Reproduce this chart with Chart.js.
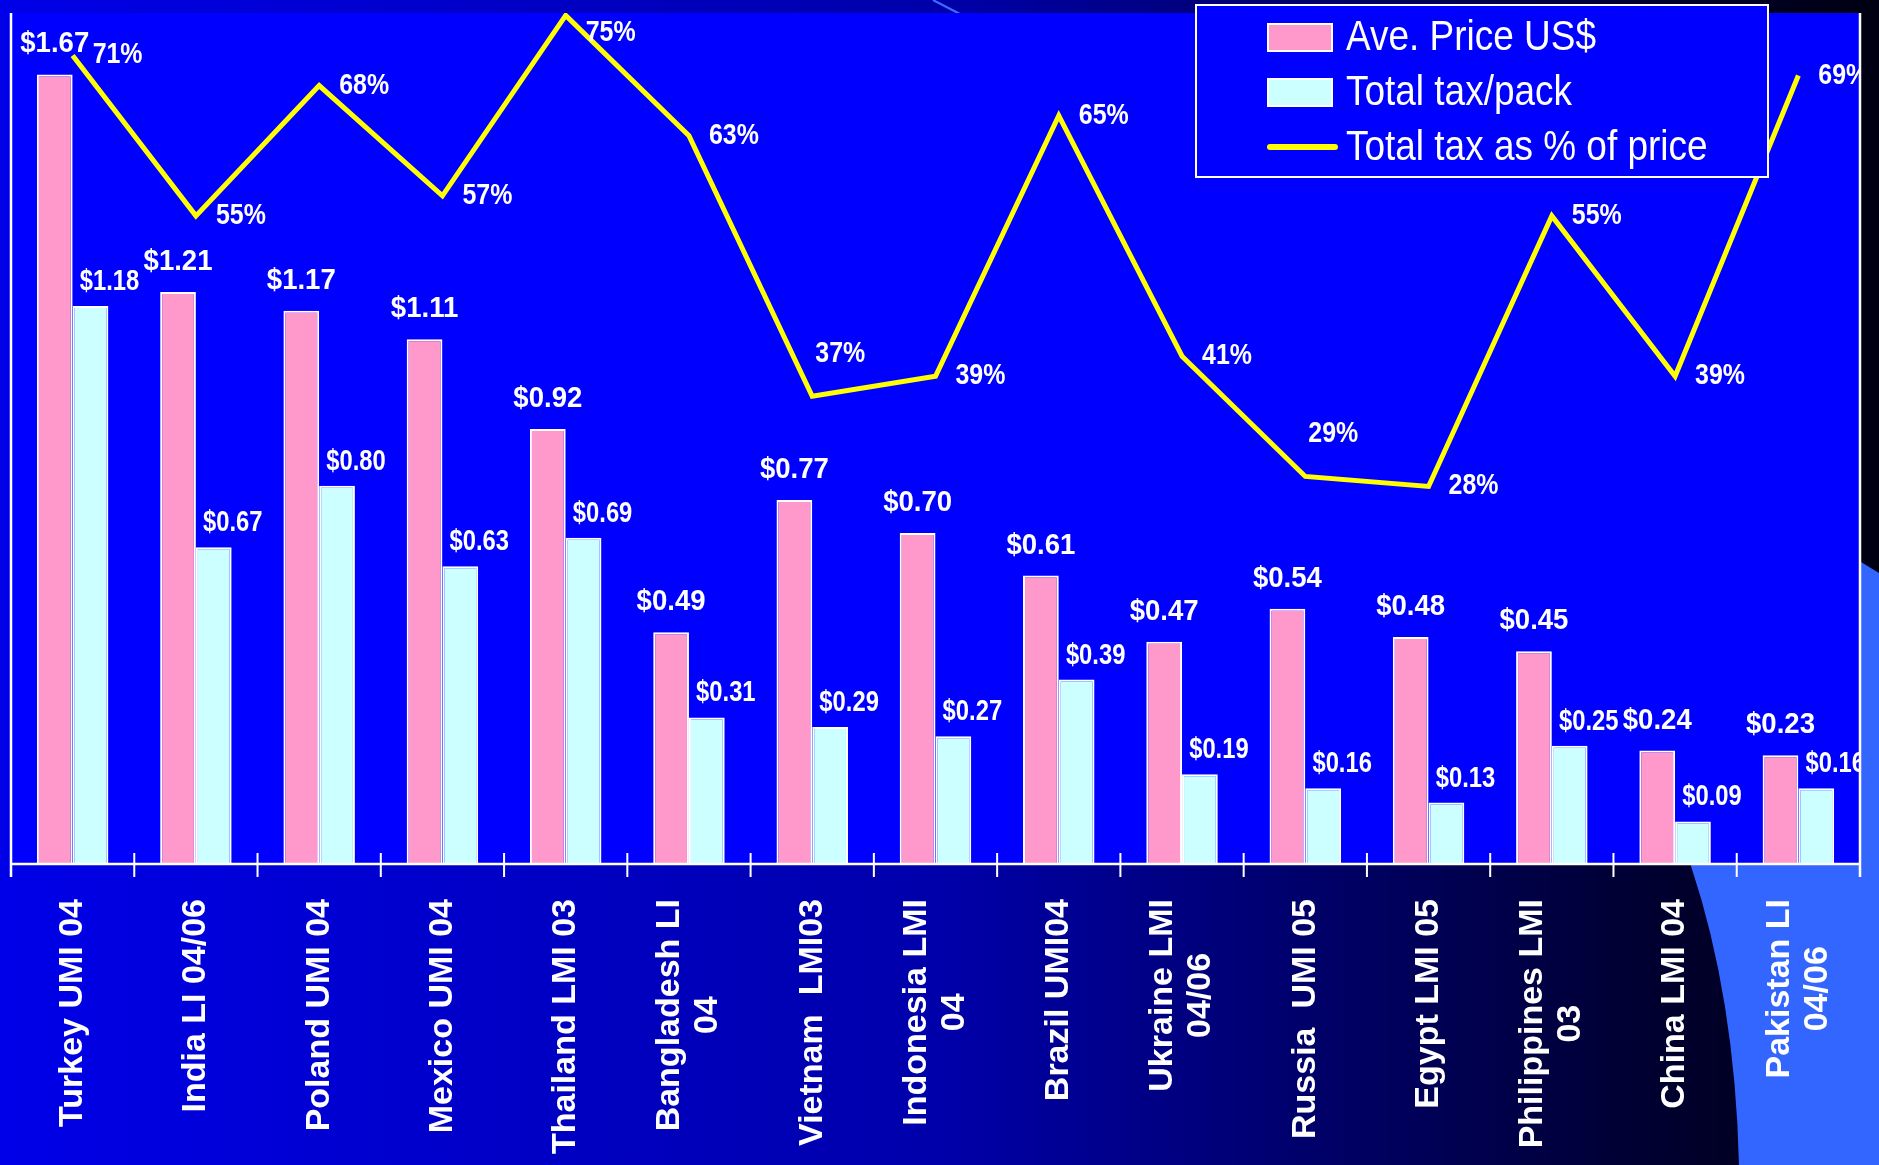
<!DOCTYPE html>
<html>
<head>
<meta charset="utf-8">
<title>Precio y impuesto por cajetilla</title>
<script src="https://cdn.jsdelivr.net/npm/chart.js"></script>
<style>
  body{margin:0;background:#000060;}
  #caja{width:1879px;height:1165px;}
</style>
</head>
<body>
<div id="caja"><canvas id="myChart"></canvas></div>
<script>
// datos
let paises = [
    ['Turkey UMI 04'], ['India LI 04/06'], ['Poland UMI 04'], ['Mexico UMI 04'],
    ['Thailand LMI 03'], ['Bangladesh LI', '04'], ['Vietnam  LMI03'], ['Indonesia LMI', '04'],
    ['Brazil UMI04'], ['Ukraine LMI', '04/06'], ['Russia  UMI 05'], ['Egypt LMI 05'],
    ['Philippines LMI', '03'], ['China LMI 04'], ['Pakistan LI', '04/06']
];
let precio = [1.67, 1.21, 1.17, 1.11, 0.92, 0.49, 0.77, 0.70, 0.61, 0.47, 0.54, 0.48, 0.45, 0.24, 0.23];
let impuesto = [1.18, 0.67, 0.80, 0.63, 0.69, 0.31, 0.29, 0.27, 0.39, 0.19, 0.16, 0.13, 0.25, 0.09, 0.16];
let porcentaje = [71, 55, 68, 57, 75, 63, 37, 39, 65, 41, 29, 28, 55, 39, 69];

let nombres = ['Ave. Price US$', 'Total tax/pack', 'Total tax as % of price'];

const ROSA = '#ff99cc';
const CELESTE = '#ccffff';
const AMARILLO = '#ffff00';
const FUENTE = '"Liberation Sans", Arial, sans-serif';

// texto con escala horizontal (para que se vea angosto como en el ppt)
function textoAngosto(ctx, txt, x, y, escala) {
    ctx.save();
    ctx.translate(x, y);
    ctx.scale(escala, 1);
    ctx.fillText(txt, 0, 0);
    ctx.restore();
}

// fondo tipo diapositiva
const fondo = {
    id: 'fondo',
    beforeDraw(chart) {
        const ctx = chart.ctx, a = chart.chartArea;
        const W = chart.width, H = chart.height;
        ctx.save();
        let g = ctx.createLinearGradient(0, 0, W, 0);
        g.addColorStop(0, 'rgb(0,0,232)');
        g.addColorStop(0.5, 'rgb(0,0,170)');
        g.addColorStop(0.7, 'rgb(0,0,105)');
        g.addColorStop(0.88, 'rgb(0,0,48)');
        g.addColorStop(1, 'rgb(0,0,18)');
        ctx.fillStyle = g;
        ctx.fillRect(0, 0, W, H);
        // la forma celeste de abajo a la derecha
        ctx.beginPath();
        ctx.moveTo(W, 573);
        ctx.lineTo(1861, 562);
        ctx.lineTo(1691, 700);
        ctx.lineTo(1691, 866);
        ctx.quadraticCurveTo(1735, 998, 1739, H);
        ctx.lineTo(W, H);
        ctx.closePath();
        ctx.fillStyle = '#3366ff';
        ctx.fill();
        // rayita diagonal arriba
        ctx.beginPath();
        ctx.moveTo(933, 0);
        ctx.lineTo(960, 14);
        ctx.strokeStyle = '#3f6cff';
        ctx.lineWidth = 2;
        ctx.stroke();
        // area de la grafica
        ctx.fillStyle = '#0000ff';
        ctx.fillRect(a.left, a.top, a.right - a.left, a.bottom - a.top);
        ctx.restore();
    }
};

// ejes, etiquetas de valores, nombres de paises y leyenda
const extras = {
    id: 'extras',
    afterDatasetsDraw(chart) {
        const ctx = chart.ctx, a = chart.chartArea;
        const xs = chart.scales.x;
        ctx.save();

        // valores encima de las barras (recortados al area como en el original)
        ctx.save();
        ctx.beginPath();
        ctx.rect(a.left, 0, a.right - a.left, a.bottom);
        ctx.clip();
        ctx.fillStyle = '#ffffff';
        ctx.textBaseline = 'middle';
        ctx.font = 'bold 29px ' + FUENTE;
        ctx.textAlign = 'center';
        chart.getDatasetMeta(0).data.forEach(function(el, i) {
            textoAngosto(ctx, '$' + precio[i].toFixed(2), el.x, el.y - 30, 0.95);
        });
        chart.getDatasetMeta(1).data.forEach(function(el, i) {
            textoAngosto(ctx, '$' + impuesto[i].toFixed(2), el.x + 19, el.y - 24, 0.82);
        });
        chart.getDatasetMeta(2).data.forEach(function(el, i) {
            let sig = porcentaje[i + 1];
            let y = Math.max(el.y, a.top + 20);
            if (sig !== undefined && Math.abs(sig - porcentaje[i]) < 4) {
                // tramo casi plano: la etiqueta va arriba para no pisar la linea
                ctx.textAlign = 'center';
                textoAngosto(ctx, porcentaje[i] + '%', el.x + 28, y - 42, 0.86);
            } else {
                ctx.textAlign = 'left';
                textoAngosto(ctx, porcentaje[i] + '%', el.x + 20, y, 0.86);
            }
        });
        ctx.restore();

        // lineas de los ejes
        ctx.strokeStyle = '#ffffff';
        ctx.lineWidth = 2.5;
        ctx.beginPath();
        ctx.moveTo(a.left, a.bottom);
        ctx.lineTo(a.right, a.bottom);
        ctx.moveTo(a.left, a.top);
        ctx.lineTo(a.left, a.bottom + 13);
        ctx.moveTo(a.right, a.top);
        ctx.lineTo(a.right, a.bottom + 13);
        ctx.stroke();
        ctx.lineWidth = 2;
        let paso = (a.right - a.left) / paises.length;
        ctx.beginPath();
        for (let i = 1; i < paises.length; i++) {
            let x = a.left + i * paso;
            ctx.moveTo(x, a.bottom - 11);
            ctx.lineTo(x, a.bottom + 13);
        }
        ctx.stroke();

        // nombres de paises rotados
        ctx.fillStyle = '#ffffff';
        ctx.font = 'bold 34px ' + FUENTE;
        ctx.textAlign = 'center';
        ctx.textBaseline = 'middle';
        paises.forEach(function(lineas, i) {
            let x = xs.getPixelForValue(i);
            let ancho = Math.max.apply(null, lineas.map(l => ctx.measureText(l).width));
            ctx.save();
            ctx.translate(x, a.bottom + 35 + ancho / 2);
            ctx.rotate(-Math.PI / 2);
            lineas.forEach(function(l, j) {
                ctx.fillText(l, 0, (j - (lineas.length - 1) / 2) * 38);
            });
            ctx.restore();
        });

        // leyenda
        let ds = chart.data.datasets;
        ctx.fillStyle = '#0000ff';
        ctx.fillRect(1196, 5, 572, 172);
        ctx.strokeStyle = '#ffffff';
        ctx.lineWidth = 2;
        ctx.strokeRect(1196, 5, 572, 172);
        let filas = [37, 92, 147];
        for (let k = 0; k < 2; k++) {
            ctx.fillStyle = ds[k].backgroundColor;
            ctx.fillRect(1268, filas[k] - 13, 64, 27);
            ctx.strokeRect(1268, filas[k] - 13, 64, 27);
        }
        ctx.beginPath();
        ctx.moveTo(1270, filas[2]);
        ctx.lineTo(1335, filas[2]);
        ctx.strokeStyle = ds[2].borderColor;
        ctx.lineWidth = 6;
        ctx.lineCap = 'round';
        ctx.stroke();
        ctx.fillStyle = '#ffffff';
        ctx.font = '42px ' + FUENTE;
        ctx.textAlign = 'left';
        ctx.textBaseline = 'middle';
        ds.forEach(function(d, k) {
            textoAngosto(ctx, d.label, 1346, filas[k] + 1, 0.88);
        });

        ctx.restore();
    }
};

var graphTarget = document.getElementById('myChart');
var chartdata = {
    labels: paises,
    datasets: [
        {
            type: 'bar',
            label: nombres[0],
            data: precio,
            backgroundColor: ROSA,
            borderColor: '#ffffff',
            borderWidth: 2,
            yAxisID: 'y',
            order: 1
        },
        {
            type: 'bar',
            label: nombres[1],
            data: impuesto,
            backgroundColor: CELESTE,
            borderColor: '#ffffff',
            borderWidth: 2,
            yAxisID: 'y',
            order: 1
        },
        {
            type: 'line',
            label: nombres[2],
            data: porcentaje,
            borderColor: AMARILLO,
            backgroundColor: AMARILLO,
            borderWidth: 5,
            pointRadius: 0,
            tension: 0,
            yAxisID: 'y1',
            order: 0
        }
    ]
};

var grafica = new Chart(graphTarget, {
    data: chartdata,
    options: {
        responsive: true,
        maintainAspectRatio: false,
        animation: false,
        layout: { padding: { left: 11, top: 13, right: 19, bottom: 301 } },
        datasets: { bar: { categoryPercentage: 0.58, barPercentage: 1.0 } },
        plugins: { legend: { display: false }, tooltip: { enabled: false } },
        scales: {
            x: { display: false, offset: true },
            y: { display: false, min: 0, max: 1.8 },
            y1: { display: false, min: -9.67, max: 75.24 }
        }
    },
    plugins: [fondo, extras]
});
</script>
</body>
</html>
